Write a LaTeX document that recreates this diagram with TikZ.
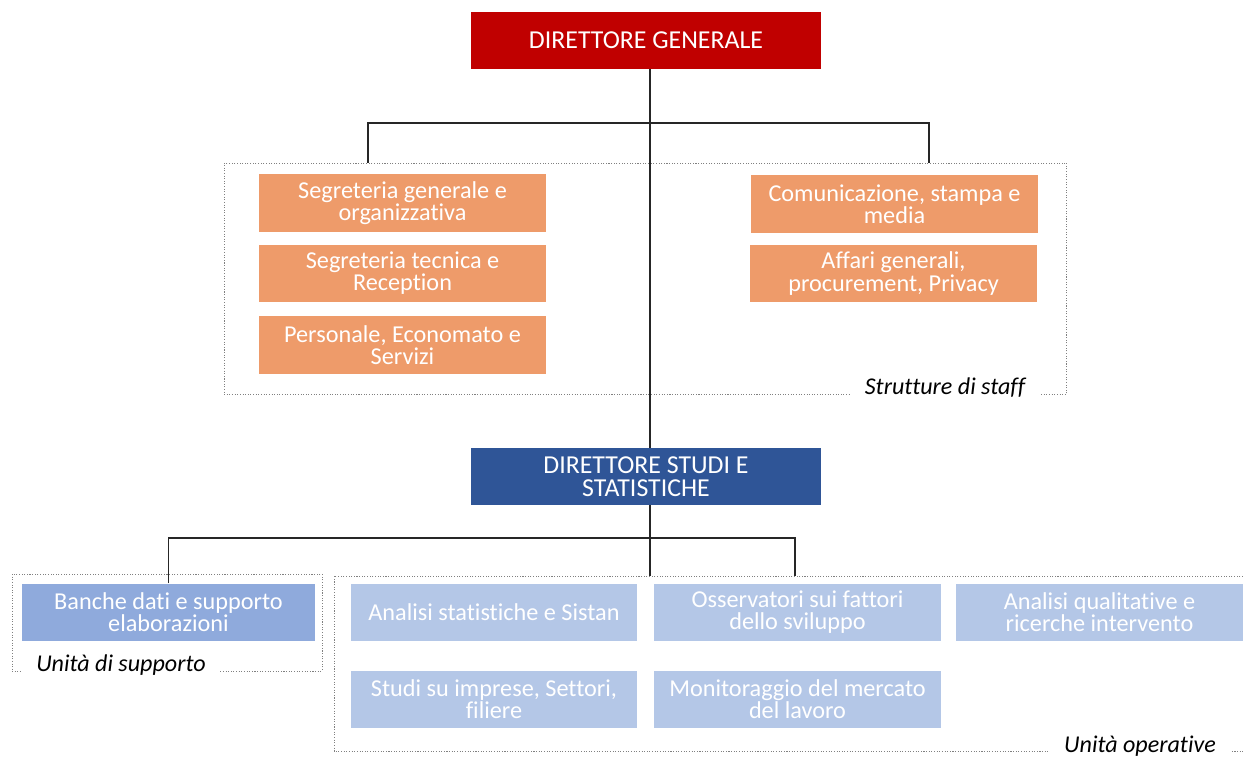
\documentclass[tikz,border=0pt]{standalone}
\usepackage{fontspec}
\setmainfont{Carlito}[Ligatures=NoCommon]
\usetikzlibrary{positioning}

\definecolor{dgred}{RGB}{192,0,0}
\definecolor{dssblue}{RGB}{47,85,151}
\definecolor{staffor}{RGB}{238,155,106}
\definecolor{supblue}{RGB}{143,170,220}
\definecolor{opblue}{RGB}{180,199,231}
\definecolor{framegray}{RGB}{128,128,128}

\begin{document}
\begin{tikzpicture}[x=0.02cm,y=-0.02cm,
                    font=\fontsize{13.8}{12.6}\selectfont,
  box/.style={text=white,align=center,inner sep=0pt,
              minimum width=5.74cm,minimum height=1.15cm},
  headbox/.style={box,minimum width=7cm,minimum height=1.14cm,
                  font=\fontsize{14.7}{13.4}\selectfont},
  staffbox/.style={box,fill=staffor},
  supbox/.style={box,fill=supblue,minimum width=5.86cm},
  opbox/.style={box,fill=opblue},
  frame/.style={draw=framegray,line width=0.5pt,
                dash pattern=on 0.6pt off 0.9pt},
  framelabel/.style={fill=white,inner xsep=0.28cm,inner ysep=1pt,
                     font=\fontsize{13.7}{14}\selectfont\itshape},
  link/.style={draw=black!85,line width=0.75pt}]
  \useasboundingbox (0,0) rectangle (1243,758);

  % dotted frames round the groups
  \node[frame,minimum width=16.86cm,minimum height=4.62cm,inner sep=0pt]
    (staff) at (645.5,278.5) {};
  \node[frame,minimum width=6.2cm,minimum height=1.94cm,inner sep=0pt]
    (support) at (167,622.5) {};
  \draw[frame] (1243,576) -- (334,576) -- (334,751) -- (1243,751);
  \coordinate (optop) at (334,576);
  \node[framelabel] (stafflabel) at (945,388) {Strutture di staff};
  \node[framelabel] (suplabel) at (121,665) {Unità di supporto};
  \node[framelabel] (oplabel) at (1140,746) {Unità operative};

  % directors
  \node[headbox,fill=dgred] (dg) at (646,40.5) {DIRETTORE GENERALE};
  \node[headbox,fill=dssblue] (dss) at (646,476.5)
    {DIRETTORE STUDI E\\STATISTICHE};

  % staff units
  \node[staffbox] (seggen) at (402.5,203)
    {Segreteria generale e\\organizzativa};
  \node[staffbox] (segtec) at (402.5,273.5)
    {Segreteria tecnica e\\Reception};
  \node[staffbox] (pers) at (402.5,345)
    {Personale, Economato e\\Servizi};
  \node[staffbox] (comm) at (894.5,204)
    {Comunicazione, stampa e\\media};
  \node[staffbox] (affari) at (893.5,273.5)
    {Affari generali,\\procurement, Privacy};

  % support and operative units
  \node[supbox] (banche) at (168.5,612.5)
    {Banche dati e supporto\\elaborazioni};
  \node[opbox] (analisi) at (494,612.5) {Analisi statistiche e Sistan};
  \node[opbox] (osserv) at (797.5,612.5)
    {Osservatori sui fattori\\dello sviluppo};
  \node[opbox] (qualit) at (1099.5,612.5)
    {Analisi qualitative e\\ricerche intervento};
  \node[opbox] (imprese) at (494,699.5)
    {Studi su imprese, Settori,\\filiere};
  \node[opbox] (lavoro) at (797.5,699.5)
    {Monitoraggio del mercato\\del lavoro};

  % connectors
  \coordinate (trunk) at (650,0);
  \coordinate (staffbar) at (650,123);
  \coordinate (unitbar) at (650,538);
  \coordinate (staffL) at (368,123);
  \coordinate (staffR) at (929,123);
  \coordinate (unitR) at (795,538);
  \draw[link] (dg.south -| trunk) -- (dss.north -| trunk);
  \draw[link] (dss.south -| trunk) -- (optop -| trunk);
  \draw[link] (staff.north -| staffL) |- (staffbar)
    -| (staff.north -| staffR);
  \draw[link] (banche.north) |- (unitbar) -| (optop -| unitR);
\end{tikzpicture}
\end{document}
